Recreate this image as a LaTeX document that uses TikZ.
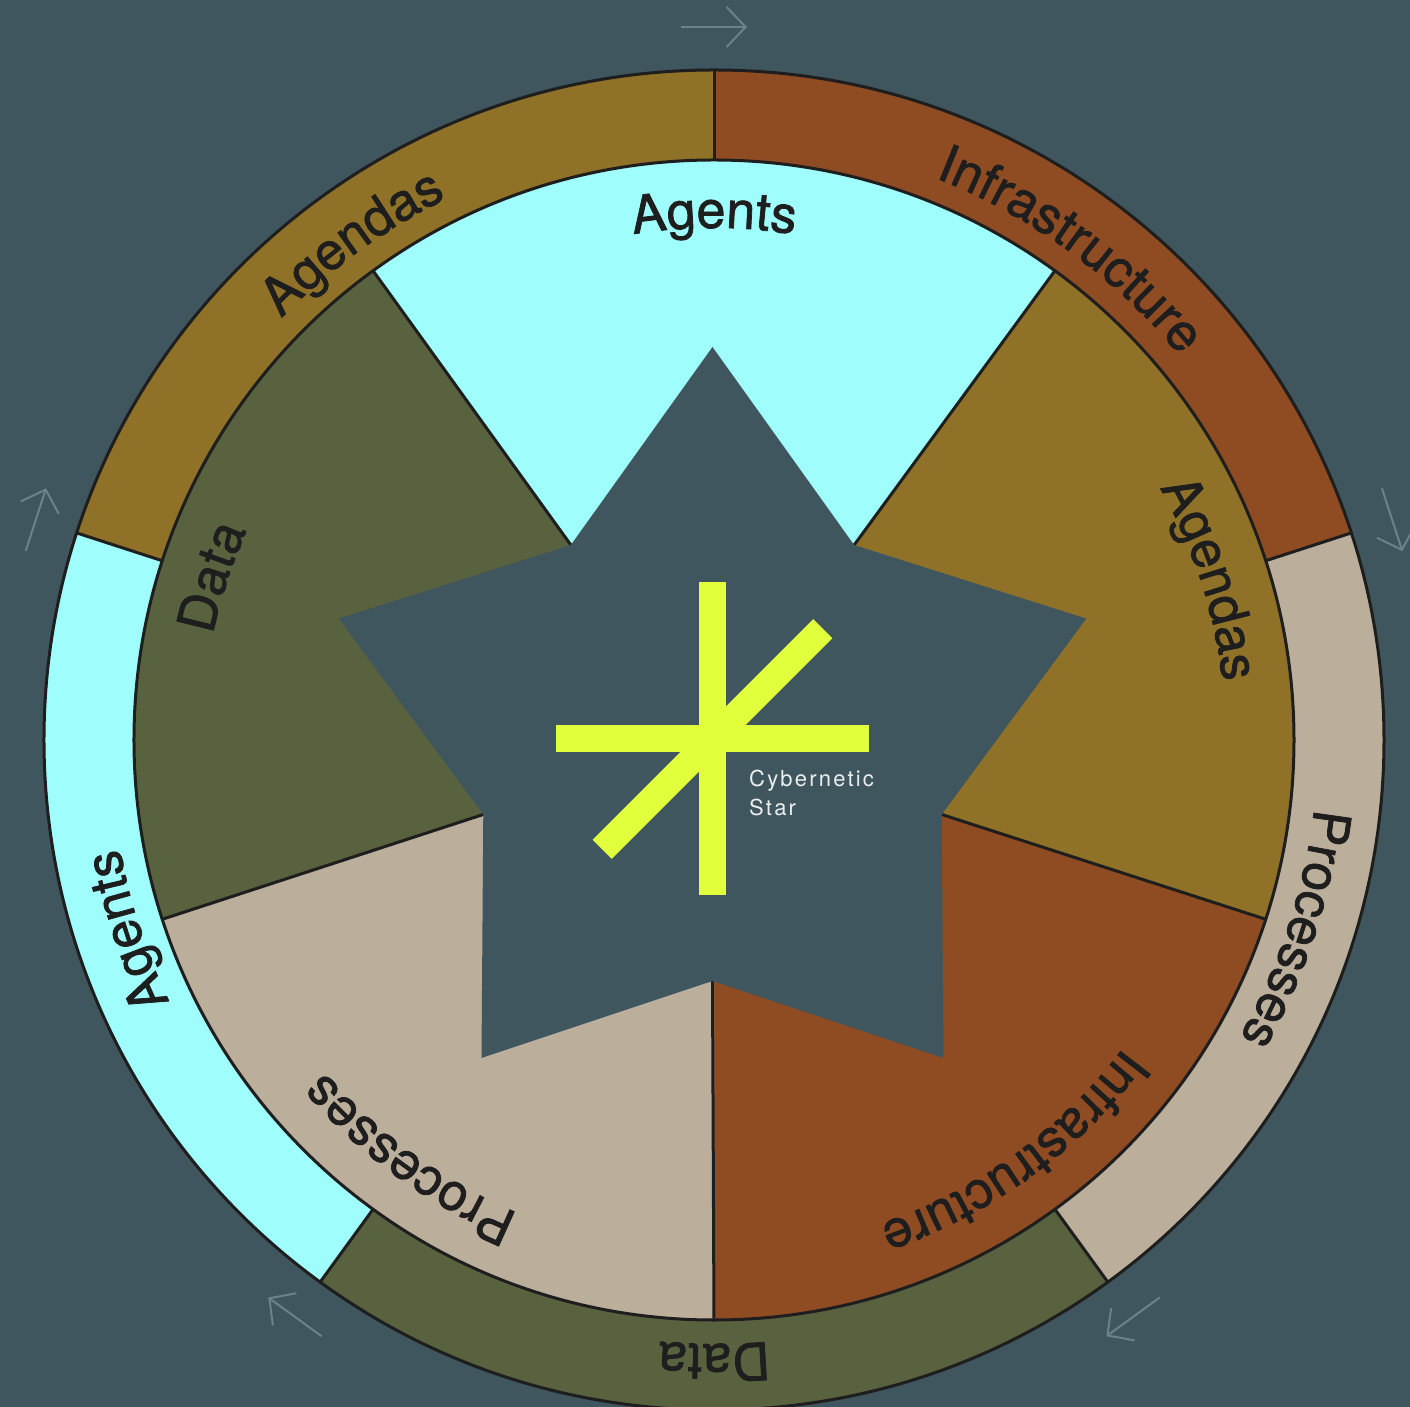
\documentclass[tikz,border=0pt]{standalone}
\usepackage{fontspec}
\setmainfont{TeX Gyre Heros}
\newfontfamily\capfont[LetterSpace=10]{TeX Gyre Heros}
\newfontfamily\lblfam[FakeBold=1.4]{TeX Gyre Heros}
\usetikzlibrary{decorations.text,arrows.meta,calc}
\definecolor{bg}{HTML}{3F565E}
\definecolor{ink}{HTML}{1E1E1E}
\definecolor{cyanc}{HTML}{9FFDFC}
\definecolor{goldc}{HTML}{8F7227}
\definecolor{brownc}{HTML}{8F4C22}
\definecolor{beigec}{HTML}{BBAE9B}
\definecolor{olivec}{HTML}{59623F}
\definecolor{limec}{HTML}{E2FF3C}
\definecolor{arrowc}{HTML}{6A8289}
\definecolor{txtc}{HTML}{ECEEEE}
\newcommand\lblfont{\lblfam\fontsize{52}{60}\selectfont}
\newcommand\ringtext[3]{\path[decorate,decoration={text along path,text={|\lblfont|#3},text align=center,text color=ink}] ({#1+70}:#2) arc[start angle={#1+70}, end angle={#1-70}, radius=#2];}
\tikzset{
  edge/.style={draw=ink, line width=3pt},
  bar/.style={draw=limec, line width=27pt, line cap=butt},
  turn/.style={draw=arrowc, line width=2pt, -{Straight Barb[length=19pt,width=40pt]}},
}
\begin{document}
\begin{tikzpicture}[x=1pt,y=1pt]
\useasboundingbox (-714,-667) rectangle (696,740);
\clip (-714,-667) rectangle (696,740);
\fill[bg] (-714,-667) rectangle (696,740);
% inner sectors
\foreach \a/\b/\c in {54/126/cyanc, -18/54/goldc, -90/-18/brownc, -162/-90/beigec, 126/198/olivec}
  \fill[\c] (0,0) -- (\a:580) arc[start angle=\a, end angle=\b, radius=580pt] -- cycle;
% outer ring segments
\foreach \a/\b/\c in {18/90/brownc, -54/18/beigec, -126/-54/olivec, 162/234/cyanc, 90/162/goldc}
  \fill[\c] (\a:580) arc[start angle=\a, end angle=\b, radius=580pt] -- (\b:670) arc[start angle=\b, end angle=\a, radius=670pt] -- cycle;
\draw[edge] (0,0) circle[radius=670pt];
\draw[edge] (0,0) circle[radius=580pt];
\foreach \a in {90,18,-54,-126,162}
  \draw[edge] (\a:580) -- (\a:670);
% star
\foreach \k/\r in {0/393,1/241,2/393,3/241,4/393,5/241,6/393,7/241,8/393,9/241}
  \coordinate (s\k) at ($(-1.5,0)+({90-36*\k}:\r)$);
\foreach \k/\a in {1/54,3/-18,5/-90,7/-162,9/126}
  \draw[edge] (s\k) -- (\a:580);
\fill[bg] (s0)--(s1)--(s2)--(s3)--(s4)--(s5)--(s6)--(s7)--(s8)--(s9)--cycle;
% asterisk
\draw[bar] (-1.5,-155) -- (-1.5,158);
\draw[bar] (-158,1) -- (155,1);
\draw[bar] ($(-1.5,1)+(225:156)$) -- ($(-1.5,1)+(45:156)$);
\node[anchor=base west, text=txtc, font=\capfont\fontsize{22}{29}\selectfont, inner sep=0pt] (cyb1) at (35,-47) {Cybernetic};
\node[anchor=base west, text=txtc, font=\capfont\fontsize{22}{29}\selectfont, inner sep=0pt] (cyb2) at (35,-76) {Star};
% labels
\ringtext{90}{512pt}{Agents}
\ringtext{18}{512pt}{Agendas}
\ringtext{-54}{512pt}{Infrastructure}
\ringtext{-126}{512pt}{Processes}
\ringtext{162}{512pt}{Data}
\ringtext{54}{604pt}{Infrastructure}
\ringtext{-18}{604pt}{Processes}
\ringtext{-90}{604pt}{Data}
\ringtext{-162}{604pt}{Agents}
\ringtext{126}{604pt}{Agendas}
% rotation arrows
\foreach \a in {90,18,-54,-126,162}
  \draw[turn] ($(\a:713)+(\a+90:33)$) -- ($(\a:713)+(\a-90:33)$);
\end{tikzpicture}
\end{document}
